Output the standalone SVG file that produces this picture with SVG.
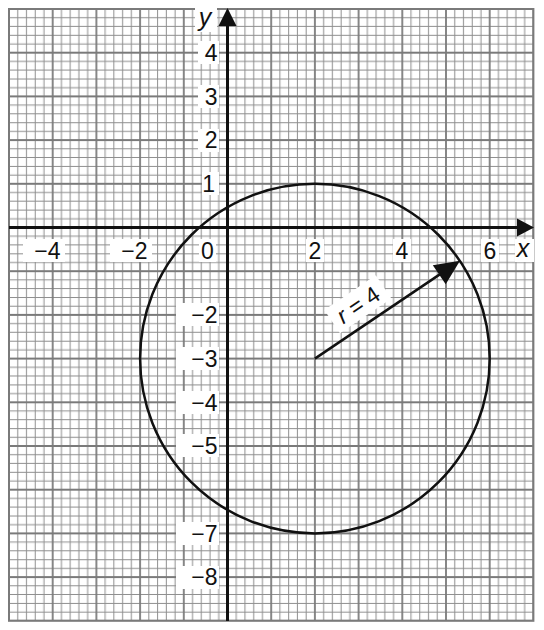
<svg xmlns="http://www.w3.org/2000/svg" width="544" height="630" viewBox="0 0 544 630">
<style>
.lbl{font-family:"Liberation Sans",Arial,Helvetica,sans-serif;font-size:23px;fill:#111}
.var{font-family:"Liberation Sans",Arial,Helvetica,sans-serif;font-size:25px;font-style:italic;fill:#111}
.bg{fill:#fff}
.minor{stroke:#8e8e8e;stroke-width:1}
.major{stroke:#7a7a7a;stroke-width:1.8}
.ax{stroke:#111;stroke-width:3;fill:none}
.head{fill:#111}
</style>
<defs>
<pattern id="gridpat" x="9" y="9" width="43.7" height="43.7" patternUnits="userSpaceOnUse">
<path class="minor" d="M8.74 0V43.7M17.48 0V43.7M26.22 0V43.7M34.96 0V43.7M0 8.74H43.7M0 17.48H43.7M0 26.22H43.7M0 34.96H43.7"/>
<path class="major" d="M0 0V43.7M43.7 0V43.7M0 0H43.7M0 43.7H43.7"/>
</pattern>
</defs>
<rect width="544" height="630" fill="#fff"/>
<g id="grid">
<rect x="9" y="9" width="524.4" height="611.8" fill="url(#gridpat)"/>
<rect x="9" y="9" width="524.4" height="611.8" fill="none" stroke="#7a7a7a" stroke-width="2"/>
</g>
<g id="labels">
<rect class="bg" x="23" y="239" width="42" height="23"/>
<rect class="bg" x="110" y="239" width="42" height="23"/>
<rect class="bg" x="199" y="239" width="17" height="23"/>
<rect class="bg" x="306" y="239" width="18" height="23"/>
<rect class="bg" x="393" y="239" width="18" height="23"/>
<rect class="bg" x="481" y="239" width="18" height="23"/>
<rect class="bg" x="515" y="239" width="19" height="23"/>
<rect class="bg" x="195" y="8" width="22" height="24"/>
<rect class="bg" x="198" y="41" width="21" height="23"/>
<rect class="bg" x="198" y="85" width="21" height="23"/>
<rect class="bg" x="198" y="129" width="21" height="23"/>
<rect class="bg" x="202" y="172" width="17" height="23"/>
<rect class="bg" x="176" y="303" width="43" height="23"/>
<rect class="bg" x="176" y="347" width="43" height="23"/>
<rect class="bg" x="176" y="391" width="43" height="23"/>
<rect class="bg" x="176" y="434" width="43" height="23"/>
<rect class="bg" x="176" y="522" width="43" height="23"/>
<rect class="bg" x="176" y="566" width="43" height="23"/>
<text class="lbl" x="60.5" y="258.5" text-anchor="end">−4</text>
<text class="lbl" x="147.5" y="258.5" text-anchor="end">−2</text>
<text class="lbl" x="207.5" y="258.5" text-anchor="middle">0</text>
<text class="lbl" x="315" y="258.5" text-anchor="middle">2</text>
<text class="lbl" x="402" y="258.5" text-anchor="middle">4</text>
<text class="lbl" x="490" y="258.5" text-anchor="middle">6</text>
<text class="var" x="523" y="257" text-anchor="middle">x</text>
<text class="var" x="205" y="26" text-anchor="middle">y</text>
<text class="lbl" x="217.5" y="61" text-anchor="end">4</text>
<text class="lbl" x="217.5" y="104.7" text-anchor="end">3</text>
<text class="lbl" x="217.5" y="148.4" text-anchor="end">2</text>
<text class="lbl" x="215" y="192.1" text-anchor="end">1</text>
<text class="lbl" x="217.5" y="323.2" text-anchor="end">−2</text>
<text class="lbl" x="217.5" y="366.9" text-anchor="end">−3</text>
<text class="lbl" x="217.5" y="410.6" text-anchor="end">−4</text>
<text class="lbl" x="217.5" y="454.3" text-anchor="end">−5</text>
<text class="lbl" x="217.5" y="541.7" text-anchor="end">−7</text>
<text class="lbl" x="217.5" y="585.4" text-anchor="end">−8</text>
</g>
<g id="axes">
<path class="ax" d="M9 227.5H520"/>
<polygon class="head" points="534,227.5 517,218.5 517,236.5"/>
<path class="ax" d="M227.5 621V22"/>
<polygon class="head" points="227.5,8 218.5,26 236.5,26"/>
</g>
<g id="circle">
<circle cx="314.9" cy="358.6" r="174.8" fill="none" stroke="#111" stroke-width="2.5"/>
</g>
<g id="radius" transform="translate(314.9 358.6) rotate(-34)">
<path d="M0 0H156" stroke="#111" stroke-width="2.5"/>
<polygon class="head" points="175,0 150,-11.5 150,11.5"/>
<rect class="bg" x="35" y="-35" width="62" height="28"/>
<text class="lbl" x="66" y="-12.5" text-anchor="middle" font-size="24px"><tspan font-style="italic">r</tspan> = 4</text>
</g>
</svg>
